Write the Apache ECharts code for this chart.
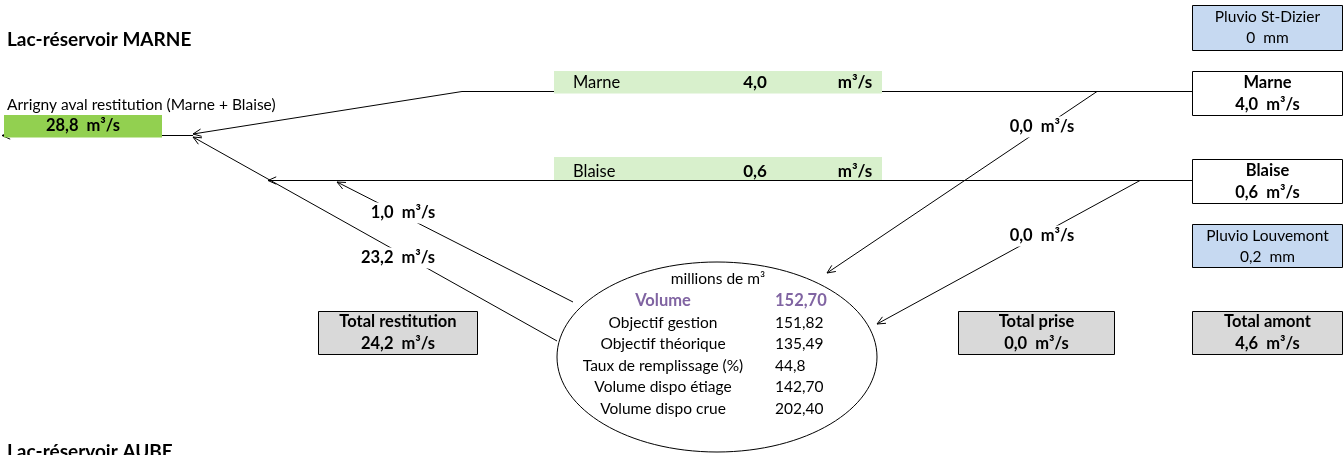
<!DOCTYPE html>
<html><head><meta charset="utf-8">
<script src="https://cdn.jsdelivr.net/npm/echarts@6/dist/echarts.min.js"></script>
<style>html,body{margin:0;padding:0;background:#fff}#c{width:1343px;height:455px}</style>
</head><body><div id="c"></div>
<script>
// ---- data ----
const titleTop = 'Lac-réservoir MARNE';
const titleBottom = 'Lac-réservoir AUBE';
const arrignyLabel = 'Arrigny aval restitution (Marne + Blaise)';
const arrignyFlow = 28.8;
const riverNames = ['Marne', 'Blaise'];
const riverFlows = [4.0, 0.6];
const priseFlows = [0.0, 0.0];          // Marne -> lac, Blaise -> lac
const restitutionFlows = [1.0, 23.2];   // lac -> Blaise, lac -> Arrigny
const totalRestitution = 24.2;
const totalPrise = 0.0;
const totalAmont = 4.6;
const pluvioNames = ['Pluvio St-Dizier', 'Pluvio Louvemont'];
const pluvioValues = [0, 0.2];
const volumeUnit = 'millions de m³';
const volumeLabels = ['Volume', 'Objectif gestion', 'Objectif théorique', 'Taux de remplissage (%)', 'Volume dispo étiage', 'Volume dispo crue'];
const volumeValues = [152.70, 151.82, 135.49, 44.8, 142.70, 202.40];
const volumeDecimals = [2, 2, 2, 1, 2, 2];
const totalLabels = ['Total restitution', 'Total prise', 'Total amont'];

// ---- helpers ----
const FF = 'Lato, "Open Sans", sans-serif';
const NS = 15.5, BS = 16.5;
function fr(v, d) { return v.toFixed(d).replace('.', ','); }
function flow(v) { return fr(v, 1) + '  m³/s'; }

const W = 1343, H = 455;

function render(params, api) {
  if (params.dataIndex !== 0) return null;
  const P = (x, y) => api.coord([x, y]);
  const lines = [], shapes = [], texts = [];
  const LC = '#000';
  function seg(pts) {
    lines.push({ type: 'polyline', shape: { points: pts.map(p => P(p[0], p[1])) },
      style: { stroke: LC, lineWidth: 1, fill: null } });
  }
  function arrow(pts) {
    seg(pts);
    const a = P(...pts[pts.length - 2]), b = P(...pts[pts.length - 1]);
    let dx = b[0] - a[0], dy = b[1] - a[1];
    const L = Math.hypot(dx, dy); dx /= L; dy /= L;
    const len = 9, ang = 0.42;
    const h = s => [b[0] - len * (dx * Math.cos(s * ang) - dy * Math.sin(s * ang)),
                    b[1] - len * (dx * Math.sin(s * ang) + dy * Math.cos(s * ang))];
    lines.push({ type: 'polyline', shape: { points: [h(1), b, h(-1)] },
      style: { stroke: LC, lineWidth: 1, fill: null } });
  }
  function rect(x0, y0, x1, y1, fill, stroke) {
    const a = P(x0, y0), b = P(x1, y1);
    shapes.push({ type: 'rect', shape: { x: a[0], y: a[1], width: b[0] - a[0], height: b[1] - a[1] },
      style: { fill: fill, stroke: stroke || null, lineWidth: 1 } });
  }
  function txt(x, y, s, o) {
    o = o || {};
    const p = P(x, y);
    const al = o.align || 'center';
    const st = { text: s, fill: o.color || '#000', fontSize: o.size || (o.bold ? BS : NS), fontFamily: FF,
      fontWeight: o.bold ? 'bold' : 'normal', align: al, textAlign: al,
      verticalAlign: 'middle', textVerticalAlign: 'middle' };
    if (o.bg) { st.backgroundColor = o.bg; st.padding = o.pad || [1, 4]; }
    texts.push({ type: 'text', x: p[0], y: p[1], style: st });
  }

  // flow lines
  arrow([[193, 135.5], [2, 135.5]]);
  arrow([[1192, 91.5], [462, 91.5], [193, 134]]);
  arrow([[1192, 180.5], [268, 180.5]]);
  arrow([[573, 302], [337, 182]]);
  arrow([[557, 341], [193, 137]]);
  arrow([[1097, 91.5], [827, 273]]);
  arrow([[1140, 180.5], [877, 324]]);

  // titles
  txt(7, 40, titleTop, { align: 'left', bold: true, size: 19 });
  txt(7, 452, titleBottom, { align: 'left', bold: true, size: 19 });
  txt(7, 105, arrignyLabel, { align: 'left' });

  // Arrigny box
  rect(4, 115, 162, 137.5, '#92d050');
  txt(83, 126, flow(arrignyFlow), { bold: true });
  seg([[2, 135.5], [193, 135.5]]);

  // river green bands
  const bandY = [[71, 93.5], [157, 180]];
  riverNames.forEach((n, i) => {
    rect(554, bandY[i][0], 882, bandY[i][1], '#d8f0cc');
    const ty = i === 0 ? 83 : 172;
    txt(573, ty, n, { align: 'left', size: 16.5 });
    txt(755, ty, fr(riverFlows[i], 1), { bold: true, size: 17 });
    txt(855, ty, 'm³/s', { bold: true, size: 17 });
  });

  // right-side boxes
  const bx0 = 1192.5, bx1 = 1342.5, bcx = 1267.5;
  rect(bx0, 5.5, bx1, 50.5, '#c6d9f1', '#000');
  txt(bcx, 17, pluvioNames[0]);
  txt(bcx, 38, fr(pluvioValues[0], 0) + '  mm');
  const rivBox = [[71.5, 115.5], [159.5, 203.5]];
  riverNames.forEach((n, i) => {
    rect(bx0, rivBox[i][0], bx1, rivBox[i][1], '#fff', '#000');
    txt(bcx, rivBox[i][0] + 11, n, { bold: true });
    txt(bcx, rivBox[i][0] + 33, flow(riverFlows[i]), { bold: true });
  });
  rect(bx0, 224.5, bx1, 267.5, '#c6d9f1', '#000');
  txt(bcx, 236, pluvioNames[1]);
  txt(bcx, 257, fr(pluvioValues[1], 1) + '  mm');

  // totals
  const totals = [[318.5, 477.5, totalRestitution], [958.5, 1114.5, totalPrise], [bx0, bx1, totalAmont]];
  totals.forEach((t, i) => {
    rect(t[0], 311.5, t[1], 354.5, '#d9d9d9', '#000');
    const cx = (t[0] + t[1]) / 2;
    txt(cx, 322, totalLabels[i], { bold: true });
    txt(cx, 344, flow(t[2]), { bold: true });
  });

  // flow labels on lines
  txt(403, 213, flow(restitutionFlows[0]), { bold: true, bg: '#fff', pad: [2, 6] });
  txt(398, 258, flow(restitutionFlows[1]), { bold: true, bg: '#fff', pad: [2, 6] });
  txt(1042, 127, flow(priseFlows[0]), { bold: true, bg: '#fff', pad: [2, 6] });
  txt(1042, 236, flow(priseFlows[1]), { bold: true, bg: '#fff', pad: [2, 6] });

  // ellipse
  const ec = P(717, 357), ee = P(877, 452);
  shapes.push({ type: 'ellipse', shape: { cx: ec[0], cy: ec[1], rx: ee[0] - ec[0], ry: ee[1] - ec[1] },
    style: { fill: '#fff', stroke: '#000', lineWidth: 1 } });
  txt(718, 279, volumeUnit);
  const rowY = [301, 323, 344, 366, 387, 409];
  volumeLabels.forEach((l, i) => {
    const o = i === 0 ? { bold: true, color: '#8064a2' } : {};
    txt(663, rowY[i], l, o);
    txt(775, rowY[i], fr(volumeValues[i], volumeDecimals[i]), Object.assign({ align: 'left' }, o));
  });

  return { type: 'group', children: lines.concat(shapes, texts) };
}

const chart = echarts.init(document.getElementById('c'), null, { renderer: 'canvas' });
chart.setOption({
  animation: false,
  backgroundColor: '#fff',
  grid: { left: 0, right: 0, top: 0, bottom: 0 },
  xAxis: { type: 'value', min: 0, max: W, show: false },
  yAxis: { type: 'value', min: 0, max: H, inverse: true, show: false },
  series: [{ type: 'custom', coordinateSystem: 'cartesian2d', clip: false,
    renderItem: render, data: [[0, 0]], silent: true }]
});
</script></body></html>
